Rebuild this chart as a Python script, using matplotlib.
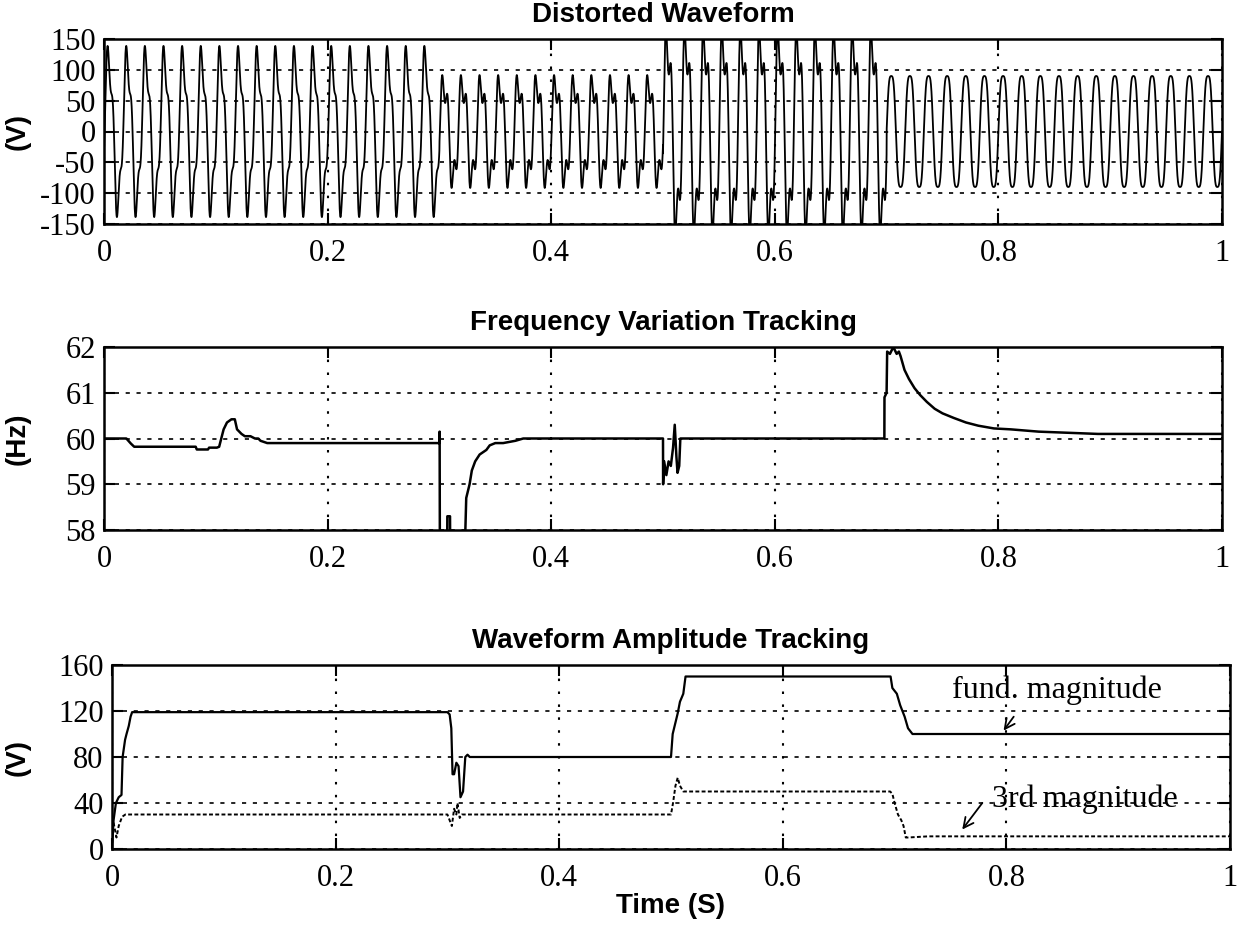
import numpy as np
import matplotlib
matplotlib.use("Agg")
import matplotlib.pyplot as plt

# ---------------- data ----------------
# Distorted waveform: piecewise segments (fundamental + 3rd harmonic)
seg_start = [0.0, 0.3, 0.5, 0.7]
seg_end = [0.3, 0.5, 0.7, 1.0]
seg_fund_amp = [120, 80, 150, 100]
seg_third_amp = [30, 30, 50, 10]
seg_third_phase_deg = [-90, -45, -45, 0]
base_freq = 60.0

# Frequency tracking (Hz)
freq_t = [0.0, 0.02, 0.024, 0.027, 0.082, 0.083, 0.093, 0.094, 0.101, 0.103, 0.107,
          0.110, 0.114, 0.117, 0.119, 0.123, 0.126, 0.131, 0.135, 0.138, 0.140, 0.146,
          0.300, 0.3002, 0.3004, 0.3070, 0.3071, 0.3095, 0.3096,
          0.323, 0.324, 0.327, 0.329, 0.332, 0.336, 0.342, 0.345, 0.350, 0.357,
          0.368, 0.375, 0.500, 0.5001, 0.501, 0.503, 0.505, 0.507, 0.509, 0.5105, 0.512,
          0.513, 0.5145, 0.5155, 0.698, 0.6981, 0.700, 0.7005, 0.703, 0.706, 0.709,
          0.711, 0.7125, 0.716, 0.720, 0.725, 0.730, 0.736, 0.743, 0.750, 0.760, 0.771,
          0.782, 0.796, 0.811, 0.836, 0.889, 1.0]
freq_hz = [60.0, 60.0, 59.89, 59.82, 59.82, 59.76, 59.76, 59.80, 59.80, 59.82, 60.20,
           60.35, 60.42, 60.42, 60.20, 60.10, 60.05, 60.05, 60.00, 60.00, 59.95, 59.90,
           59.90, 60.15, 57.80, 57.80, 58.30, 58.30, 57.80,
           57.80, 58.70, 59.00, 59.30, 59.50, 59.65, 59.75, 59.85, 59.90, 59.90,
           59.95, 60.00, 60.00, 59.00, 59.50, 59.20, 59.50, 59.40, 59.80, 60.30, 59.60,
           59.25, 59.40, 60.00, 60.00, 60.90, 61.00, 61.90, 61.85, 62.00, 61.85,
           61.90, 61.80, 61.50, 61.30, 61.10, 60.95, 60.80, 60.65, 60.55, 60.45, 60.35,
           60.28, 60.22, 60.20, 60.15, 60.10, 60.10]

# Amplitude tracking (V)
fund_t = [0.0, 0.0014, 0.0035, 0.006, 0.0085, 0.0095, 0.0117, 0.013, 0.015, 0.0166,
          0.018, 0.30, 0.302, 0.3035, 0.3046, 0.306, 0.308, 0.310, 0.3117, 0.314,
          0.316, 0.318, 0.320, 0.500, 0.5015, 0.504, 0.506, 0.508, 0.511, 0.513,
          0.6964, 0.698, 0.702, 0.705, 0.709, 0.712, 0.716, 1.0]
fund_mag = [0.0, 25, 40, 45, 47, 80, 95, 100, 107, 115,
            119, 119, 117, 105, 65, 65, 75, 72, 45, 50,
            80, 82, 80, 80, 100, 110, 118, 128, 135, 150,
            150, 140, 135, 125, 115, 105, 100, 100]
third_t = [0.0, 0.001, 0.004, 0.006, 0.009, 0.012, 0.300, 0.302, 0.304, 0.306, 0.308,
           0.309, 0.311, 0.313, 0.500, 0.5018, 0.504, 0.506, 0.508, 0.511, 0.696,
           0.698, 0.700, 0.703, 0.706, 0.708, 0.710, 0.712, 0.730, 1.0]
third_mag = [0.0, 25, 10, 20, 28, 30, 30, 25, 20, 35, 30,
             40, 27, 30, 30, 40, 55, 62, 55, 50, 50,
             48, 40, 30, 25, 20, 10, 10, 11, 11]

xticks = [0, 0.2, 0.4, 0.6, 0.8, 1.0]
xtick_labels = ["0", "0.2", "0.4", "0.6", "0.8", "1"]

# ---------------- style ----------------
serif = ["Liberation Serif", "DejaVu Serif"]
sans = ["Liberation Sans", "DejaVu Sans"]
tick_fs = 22
title_fs = 20
W, H = 1243, 931

fig = plt.figure(figsize=(W / 100, H / 100), dpi=100)
rects = [[104, 224, 1118, 185], [104, 530, 1118, 183], [112, 849, 1118, 184]]
axes = [fig.add_axes([l / W, 1 - b / H, w / W, h / H]) for l, b, w, h in rects]
ax1, ax2, ax3 = axes


def style(ax, rect, yticks, title, ylabel):
    ax.set_xlim(0, 1)
    ax.set_xticks(xticks)
    ax.set_xticklabels(xtick_labels)
    ax.set_yticks(yticks)
    ax.set_yticklabels([str(v) for v in yticks])
    for lab in ax.get_xticklabels() + ax.get_yticklabels():
        lab.set_fontfamily(serif)
        lab.set_fontsize(tick_fs)
    ax.tick_params(direction="in", length=8, width=1.5, top=True, right=True,
                   colors="black")
    ax.tick_params(axis="x", pad=11)
    ax.tick_params(axis="y", pad=6)
    for sp in ax.spines.values():
        sp.set_linewidth(1.8)
    ax.grid(True, axis="y", color="black", linestyle=(0, (2.5, 4)), linewidth=1.2)
    ax.grid(True, axis="x", color="black", linestyle=(0, (1.2, 5)), linewidth=1.5)
    ax.set_axisbelow(True)
    ax.set_title(title, fontfamily=sans, fontweight="bold", fontsize=title_fs, pad=12)
    ax.set_ylabel(ylabel, fontfamily=sans, fontweight="bold", fontsize=title_fs)
    ax.yaxis.set_label_coords((31 - rect[0]) / rect[2], 0.5)


# Panel 1: waveform
t = np.linspace(0, 1, 40001)
wave = np.zeros_like(t)
for s, e, a1, a3, ph in zip(seg_start, seg_end, seg_fund_amp, seg_third_amp,
                            seg_third_phase_deg):
    m = (t >= s) & (t < e) if e < 1 else (t >= s)
    w = 2 * np.pi * base_freq * t[m]
    wave[m] = a1 * np.sin(w) + a3 * np.sin(3 * w + np.deg2rad(ph))
ax1.plot(t, wave, color="black", linewidth=1.3)
ax1.set_ylim(-150, 150)
style(ax1, rects[0], [-150, -100, -50, 0, 50, 100, 150], "Distorted Waveform", "(V)")

# Panel 2: frequency
ax2.plot(freq_t, freq_hz, color="black", linewidth=1.8)
ax2.set_ylim(58, 62)
style(ax2, rects[1], [58, 59, 60, 61, 62], "Frequency Variation Tracking", "(Hz)")

# Panel 3: amplitude
ax3.plot(fund_t, fund_mag, color="black", linewidth=1.6)
ax3.plot(third_t, third_mag, color="black", linewidth=1.4, linestyle=(0, (2, 1.2)))
ax3.set_ylim(0, 160)
style(ax3, rects[2], [0, 40, 80, 120, 160], "Waveform Amplitude Tracking", "(V)")
ax3.set_xlabel("Time (S)", fontfamily=sans, fontweight="bold", fontsize=title_fs,
               labelpad=0)

ann_fs = 23
ax3.annotate("fund. magnitude", xy=(0.796, 101), xytext=(0.751, 138),
             fontfamily=serif, fontsize=ann_fs, va="center", ha="left")
ax3.annotate("", xy=(0.796, 101), xytext=(0.808, 117),
             arrowprops=dict(arrowstyle="->", color="black", lw=1.3,
                             mutation_scale=18))
ax3.annotate("3rd magnitude", xy=(0.759, 15), xytext=(0.787, 43),
             fontfamily=serif, fontsize=ann_fs, va="center", ha="left")
ax3.annotate("", xy=(0.759, 15), xytext=(0.780, 42),
             arrowprops=dict(arrowstyle="->", color="black", lw=1.3,
                             mutation_scale=18))

fig.savefig("out.png", dpi=100, facecolor="white")
